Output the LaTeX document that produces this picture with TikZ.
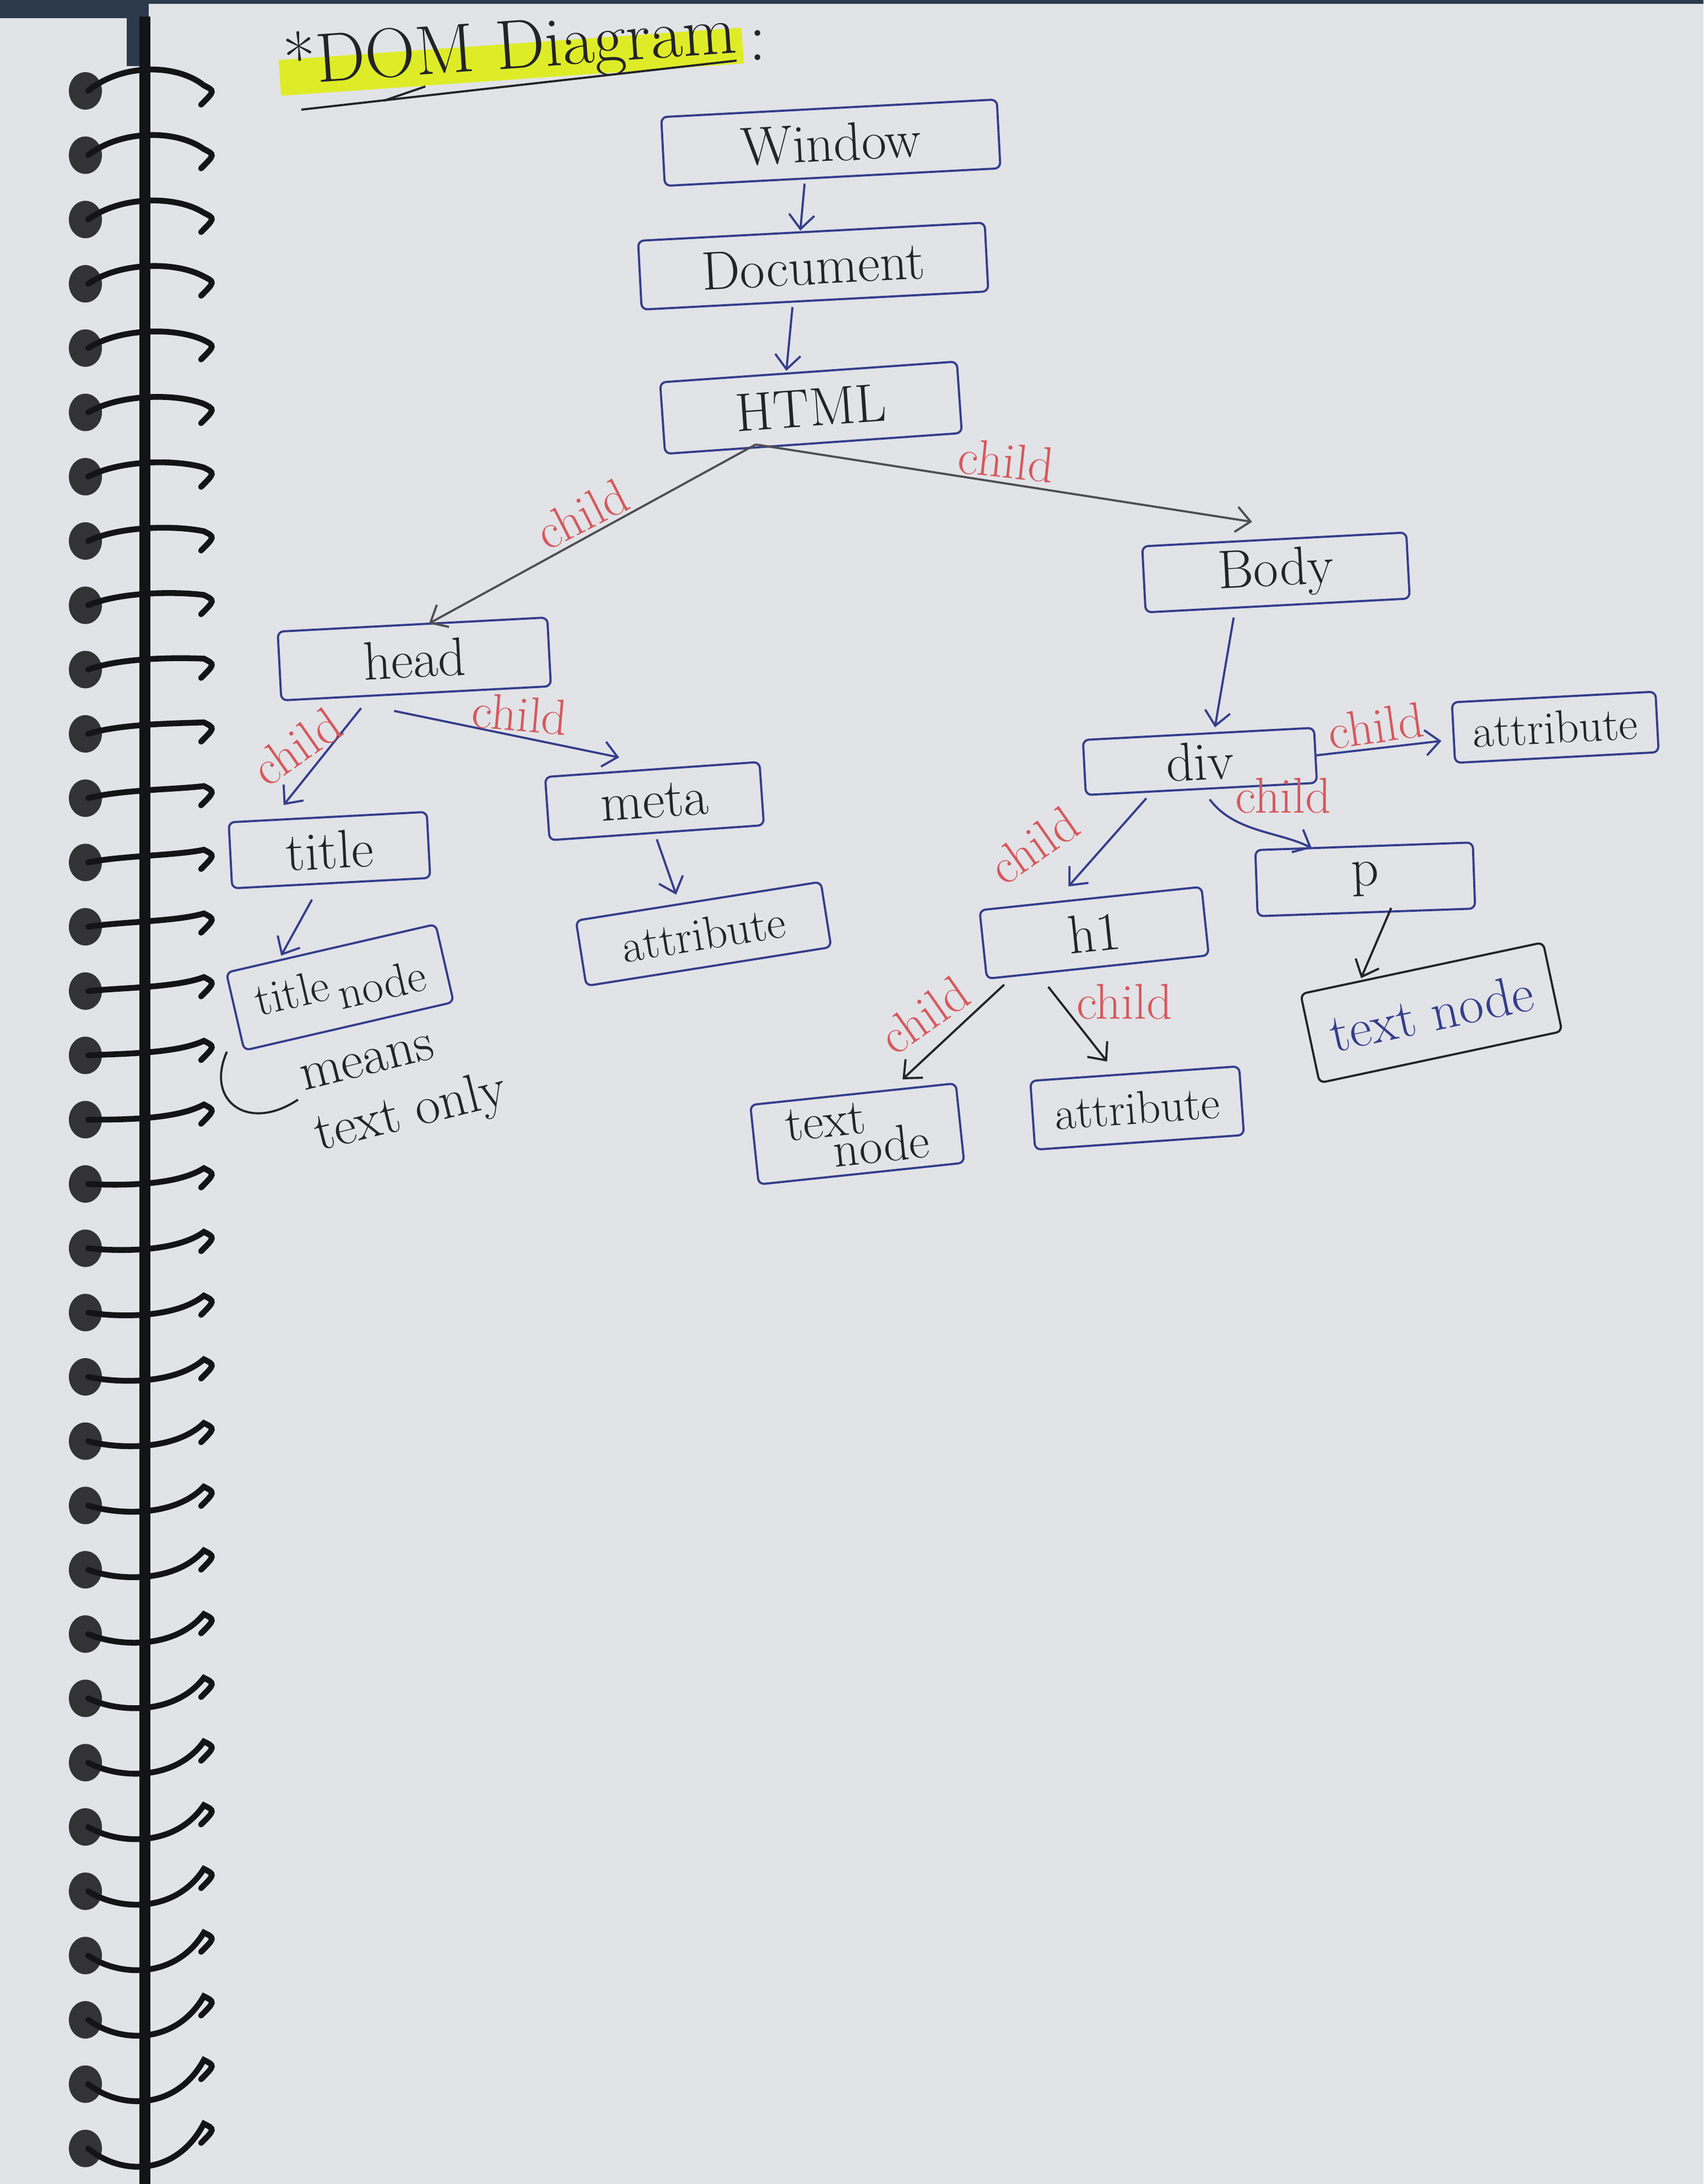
\documentclass[tikz,border=0pt]{standalone}
\usepackage{fontspec}
\usetikzlibrary{arrows.meta}

\definecolor{paper}{RGB}{226,227,231}
\definecolor{pen}{RGB}{52,62,140}
\definecolor{ink}{RGB}{35,35,40}
\definecolor{redpen}{RGB}{214,88,92}
\definecolor{marker}{RGB}{222,236,40}
\definecolor{wire}{RGB}{20,20,22}
\definecolor{cover}{RGB}{45,58,78}

\begin{document}
\begin{tikzpicture}[x=1cm, y=-1cm,
      >={Straight Barb[length=2.6mm,width=4.6mm]},
      every node/.style={text=ink, font=\fontsize{28}{32}\selectfont},
      box/.style={draw=pen, line width=1.1pt, rounded corners=3pt, inner sep=0pt},
      link/.style={->, draw=pen, line width=1.1pt},
      lbl/.style={text=redpen, font=\fontsize{26}{28}\selectfont, inner sep=2pt}]
    \useasboundingbox (0,0) rectangle (30.92,39.64);
    \fill[paper] (0,0) rectangle (30.92,39.64);

    \fill[cover] (0,0) rectangle (2.7,0.33);
    \fill[cover] (2.3,0) rectangle (2.7,1.2);
    \fill[cover] (2.7,0) rectangle (30.92,0.07);
    \draw[wire, line width=5.5pt] (2.63,0.3) -- (2.63,39.64);
    \foreach \i in {0,...,32} {
        \pgfmathsetmacro{\cy}{1.65+1.167*\i}
        \pgfmathsetmacro{\dip}{-0.5+1.0*\i/32}
        \pgfmathsetmacro{\rise}{-0.1-0.35*\i/32}
        \fill[wire!85!paper] (1.55,\cy) ellipse (0.3 and 0.34);
        \draw[wire, line width=3pt, line cap=round] (1.6,\cy) .. controls (2.2,\cy+\dip) and (3.2,\cy+\dip) .. (3.7,\cy+\rise) .. controls (3.9,\cy+\rise+0.1) .. (3.65,\cy+\rise+0.35);
    }

    \node[fill=marker, rotate=4, inner xsep=1mm, inner ysep=0pt, text height=4.5mm, text depth=2mm,
          font=\fontsize{36}{40}\selectfont,
          label={[font=\fontsize{36}{40}\selectfont, anchor=west, inner sep=1mm]east:{:}}] (heading) at (9.28,1.12) {*DOM Diagram};
    \draw[ink, line width=1.1pt] (5.47,1.99) -- (13.37,1.10);
    \draw[ink, line width=1.1pt] (6.96,1.83) -- (7.72,1.57);

    \node[box, minimum width=6.1cm, minimum height=1.25cm, rotate=3] (window) at (15.08,2.59) {Window};
    \node[box, minimum width=6.3cm, minimum height=1.25cm, rotate=3] (document) at (14.76,4.83) {Document};
    \node[box, minimum width=5.4cm, minimum height=1.3cm, rotate=4] (html) at (14.72,7.40) {HTML};
    \node[box, minimum width=4.8cm, minimum height=1.2cm, rotate=3] (body) at (23.16,10.39) {Body};
    \node[box, minimum width=4.9cm, minimum height=1.25cm, rotate=3] (head) at (7.52,11.96) {head};
    \node[box, minimum width=3.6cm, minimum height=1.2cm, rotate=3] (title) at (5.98,15.43) {title};
    \node[box, minimum width=3.9cm, minimum height=1.15cm, rotate=4] (meta) at (11.88,14.54) {meta};
    \node[box, minimum width=4.5cm, minimum height=1.2cm, rotate=9, font=\fontsize{24}{28}\selectfont] (metaattr) at (12.77,16.95) {attribute};
    \node[box, minimum width=3.9cm, minimum height=1.45cm, rotate=13, font=\fontsize{24}{28}\selectfont] (titletext) at (6.17,17.92) {title\,\raisebox{-0.6ex}{node}};
    \node[box, minimum width=4.2cm, minimum height=1.0cm, rotate=3] (div) at (21.78,13.82) {div};
    \node[box, minimum width=3.7cm, minimum height=1.1cm, rotate=3, font=\fontsize{24}{28}\selectfont] (divattr) at (28.23,13.20) {attribute};
    \node[box, minimum width=3.95cm, minimum height=1.2cm, rotate=2] (p) at (24.78,15.96) {p};
    \node[box, minimum width=4.05cm, minimum height=1.25cm, rotate=6] (h1) at (19.86,16.93) {h1};
    \node[box, draw=ink, text=pen, minimum width=4.5cm, minimum height=1.65cm, rotate=12] (ptext) at (25.98,18.38) {text node};
    \node[box, minimum width=3.75cm, minimum height=1.45cm, rotate=6, align=left, font=\fontsize{26}{30}\selectfont] (h1text) at (15.56,20.58) {text\\[-5mm]\hspace{0.9em}node};
    \node[box, minimum width=3.8cm, minimum height=1.25cm, rotate=4, font=\fontsize{24}{28}\selectfont] (h1attr) at (20.64,20.11) {attribute};

    \node[rotate=14, align=left] (note) at (7.35,19.8) {means\\text only};
    \draw[ink, line width=1.1pt] ([xshift=-3mm]titletext.south west) .. controls +(-0.4,0.9) and +(-0.9,0.6) .. ([xshift=-1mm,yshift=3mm]note.west);

    \draw[link, shorten <=1mm] ([xshift=-5mm]window.south) -- ([xshift=-2mm]document.north);
    \draw[link, shorten <=1mm] ([xshift=-4mm]document.south) -- ([xshift=-4mm]html.north);
    \draw[link, draw=ink!80] ([xshift=-10.5mm]html.south) -- ([xshift=3mm]head.north)
        node[lbl, pos=.5, anchor=south, rotate=27] (childhead) {child};
    \draw[link, draw=ink!80] ([xshift=-10.5mm]html.south) -- ([xshift=-4mm,yshift=3mm]body.north)
        node[lbl, pos=.5, anchor=south, rotate=-6] (childbody) {child};
    \draw[link] ([xshift=-8mm,yshift=-2mm]body.south) -- ([xshift=3mm,yshift=1mm]div.north);
    \draw[link] ([xshift=-10mm,yshift=-2.5mm]head.south) -- ([xshift=-8mm,yshift=2mm]title.north)
        node[lbl, pos=0, anchor=east, rotate=35, xshift=-4mm, yshift=1mm] (childtitle) {child};
    \draw[link] ([xshift=-4mm,yshift=-3mm]head.south) -- ([xshift=-6mm,yshift=2mm]meta.north)
        node[lbl, pos=.55, anchor=south, rotate=-5] (childmeta) {child};
    \draw[link] ([xshift=-3.5mm,yshift=-2.8mm]title.south) -- ([xshift=-9mm,yshift=-1.5mm]titletext.north);
    \draw[link] ([yshift=-1mm]meta.south) -- ([xshift=-4mm,yshift=1mm]metaattr.north);
    \draw[link] (div.east) -- ([xshift=-2mm,yshift=-1.5mm]divattr.west)
        node[lbl, pos=.5, anchor=south, rotate=8] (childdivattr) {child};
    \draw[link] ([xshift=-10mm,yshift=-1.5mm]div.south) -- ([xshift=-4mm,yshift=2mm]h1.north)
        node[lbl, pos=.05, anchor=east, rotate=35, xshift=-11mm, yshift=5mm] (childh1) {child};
    \draw[link] ([xshift=1.5mm,yshift=-1.7mm]div.south) .. controls +(0.45,0.6) and +(-0.6,-0.3) .. ([xshift=-9.5mm,yshift=-0.5mm]p.north)
        node[lbl, pos=.35, anchor=south west, xshift=-2mm, yshift=1mm] (childp) {child};
    \draw[link, draw=ink] ([xshift=4.5mm,yshift=1mm]p.south) -- ([xshift=-11mm,yshift=-2mm]ptext.north);
    \draw[link, draw=ink] ([xshift=-17mm,yshift=-3mm]h1.south) -- ([xshift=9mm,yshift=2.5mm]h1text.north)
        node[lbl, pos=.5, anchor=south, rotate=35, xshift=-2.5mm, yshift=1.5mm] (childh1text) {child};
    \draw[link, draw=ink] ([xshift=-9mm,yshift=-3.4mm]h1.south) -- ([xshift=-5mm,yshift=2mm]h1attr.north)
        node[lbl, pos=.35, anchor=west, xshift=0.5mm, yshift=2mm] (childh1attr) {child};
\end{tikzpicture}
\end{document}
